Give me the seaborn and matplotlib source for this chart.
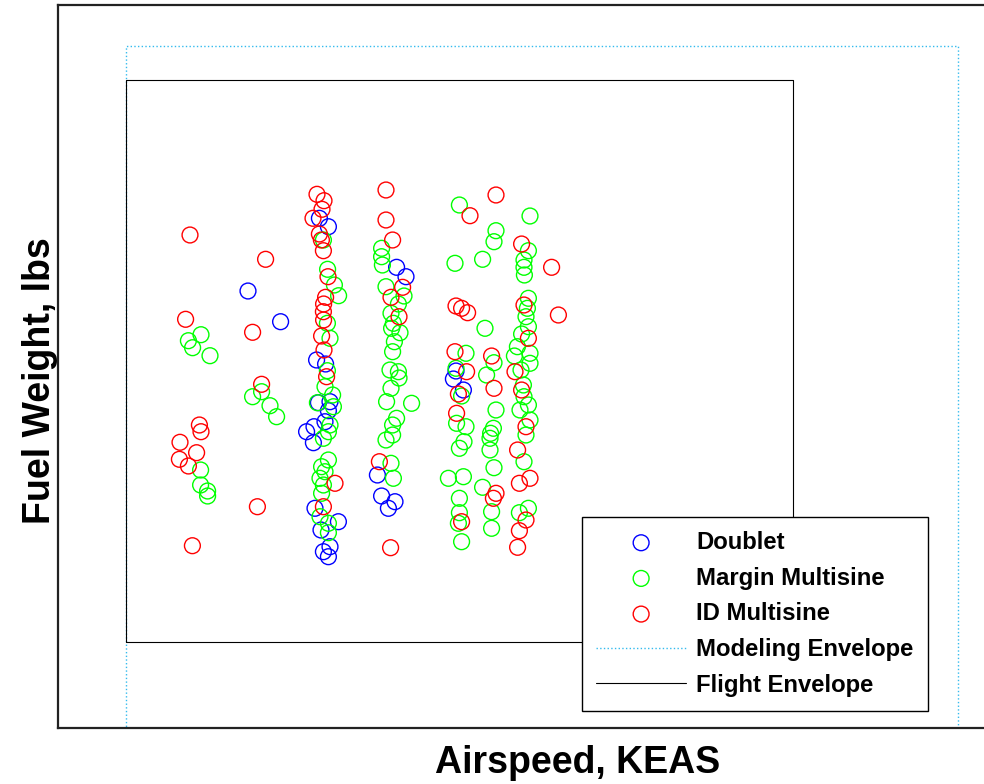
import seaborn as sns
import pandas as pd
import matplotlib.pyplot as plt

sns.set_style("white")
plt.rcParams['font.family'] = ['Liberation Sans', 'DejaVu Sans']
plt.rcParams['text.color'] = 'black'
plt.rcParams['axes.labelcolor'] = 'black'

# Test points (airspeed KEAS, fuel weight lbs)
doublet_keas = [124.0, 140.3, 159.7, 164.2, 158.3, 162.8, 159.2, 165.0, 164.2, 153.3,
                157.0, 162.5, 156.7, 157.5, 169.2, 160.5, 161.7, 164.2, 165.0, 198.3,
                203.0, 188.7, 190.8, 197.5, 194.2, 228.0, 226.7, 231.7]
doublet_fuel = [4370, 4063, 5097, 5013, 3680, 3640, 3253, 3263, 3173, 2963,
                3013, 3063, 2853, 2197, 2063, 1980, 1763, 1713, 1813, 4607,
                4513, 2530, 2320, 2263, 2197, 3570, 3490, 3380]

margin_keas = [100.5, 94.2, 96.3, 105.0, 100.3, 100.3, 103.8, 103.8, 126.3, 130.8,
               135.0, 138.3,
               161.7, 163.8, 167.2, 169.3, 163.7, 165.0, 163.7, 162.5, 166.3, 158.7,
               166.7, 165.0, 164.2, 161.7, 164.2, 160.8, 162.5, 160.0, 161.7, 160.8,
               160.0, 164.2, 164.2,
               190.8, 190.8, 191.2, 193.0, 202.0, 199.2, 195.5, 196.7, 195.8, 200.0,
               197.2, 196.3, 195.0, 199.2, 199.5, 195.5, 193.3, 205.8, 198.3, 196.3,
               196.3, 193.0, 195.5, 196.7,
               229.7, 227.5, 233.0, 228.0, 230.8, 228.3, 233.0, 232.0, 229.7, 224.2,
               231.7, 229.7, 229.7, 229.2, 230.8,
               248.0, 247.0, 241.3, 242.5, 247.0, 243.3, 248.0, 246.7, 245.3, 245.0,
               245.0, 247.0, 241.3, 245.8, 245.8,
               265.0, 264.2, 262.0, 262.0, 262.2, 264.2, 263.7, 263.0, 264.2, 260.8,
               258.7, 257.2, 265.0, 265.0, 260.5, 261.7, 262.0, 264.2, 260.0, 265.0,
               263.0, 262.0, 259.7, 264.2]
margin_fuel = [3933, 3873, 3803, 3723, 2580, 2430, 2370, 2320, 3313, 3363,
               3223, 3113,
               4880, 4587, 4430, 4323, 4047, 3897, 3573, 3413, 3330, 3253,
               3213, 3030, 2963, 2897, 2680, 2613, 2563, 2497, 2430, 2347,
               2113, 2047, 1953,
               4797, 4713, 4630, 4413, 4320, 4240, 4147, 4047, 3997, 3953,
               3863, 3763, 3580, 3563, 3500, 3397, 3263, 3247, 3097, 3030,
               2930, 2880, 2647, 2497,
               5230, 4647, 3747, 3597, 3320, 3047, 3013, 2863, 2797, 2497,
               2513, 2297, 2153, 2047, 1863,
               4973, 4863, 4687, 3997, 3653, 3530, 3180, 2997, 2947, 2897,
               2780, 2603, 2407, 2163, 1997,
               5120, 4773, 4680, 4607, 4530, 4297, 4197, 4113, 4013, 3940,
               3813, 3720, 3747, 3647, 3580, 3430, 3313, 3230, 3180, 3080,
               2930, 2663, 2153, 2197]

id_keas = [95.0, 132.8, 126.3, 92.8, 130.8, 99.7, 100.5, 90.0, 98.3, 89.7,
           94.2, 128.7, 96.2,
           158.5, 162.0, 161.0, 156.5, 159.7, 160.7, 161.7, 164.0, 162.8, 161.8,
           161.7, 161.8, 160.8, 162.0, 163.3, 167.5, 161.7,
           193.0, 193.0, 196.3, 201.3, 195.5, 199.5, 189.7, 195.3,
           235.0, 228.0, 230.8, 233.8, 227.5, 233.3, 229.2, 228.3, 230.8,
           248.0, 245.8, 247.0, 248.0, 246.7,
           260.8, 275.8, 262.0, 279.2, 264.2, 257.5, 260.8, 263.0, 258.8, 259.7,
           265.0, 263.0, 259.7, 258.8]
id_fuel = [4930, 4687, 3957, 4087, 3437, 3030, 2963, 2857, 2753, 2687,
           2620, 2213, 1823,
           5337, 5273, 5187, 5097, 4940, 4880, 4773, 4513, 4307, 4240,
           4163, 4080, 3920, 3780, 3513, 2447, 2213,
           5380, 5080, 4880, 4407, 4307, 4113, 2663, 1803,
           5123, 4220, 4197, 4153, 3763, 3563, 3340, 3147, 2063,
           5330, 3720, 3397, 2347, 2297,
           4840, 4607, 4230, 4130, 3897, 3563, 3380, 3013, 2780, 2447,
           2497, 2080, 1973, 1807]

# Envelope corners
modeling_keas = [63, 63, 479, 479]
modeling_fuel = [-500, 6825, 6825, -500]
flight_keas = [63, 63, 396.5, 396.5, 63]
flight_fuel = [860, 6480, 6480, 860, 860]

df = pd.concat([
    pd.DataFrame({"keas": doublet_keas, "fuel": doublet_fuel, "type": "Doublet"}),
    pd.DataFrame({"keas": margin_keas, "fuel": margin_fuel, "type": "Margin Multisine"}),
    pd.DataFrame({"keas": id_keas, "fuel": id_fuel, "type": "ID Multisine"}),
])
colors = {"Doublet": "#0000ff", "Margin Multisine": "#00ff00", "ID Multisine": "#ff0000"}

fig = plt.figure(figsize=(9.84, 7.84), dpi=100)
ax = fig.add_axes([58 / 984, 1 - 728 / 784, 1029 / 984, 723 / 784])

for name, grp in df.groupby("type", sort=False):
    sns.scatterplot(data=grp, x="keas", y="fuel", ax=ax, color=colors[name],
                    facecolors="none", edgecolor=colors[name], linewidth=1,
                    s=130, label=name)

ax.plot(modeling_keas, modeling_fuel, color="#33bbee", linestyle=":", linewidth=1,
        label="Modeling Envelope")
ax.plot(flight_keas, flight_fuel, color="black", linewidth=0.8, label="Flight Envelope")

ax.set_xlim(29, 543.5)
ax.set_ylim(0, 7230)
ax.set_xticks([])
ax.set_yticks([])
for sp in ax.spines.values():
    sp.set_color("#222222")
    sp.set_linewidth(1.6)

ax.set_xlabel("Airspeed, KEAS", fontsize=27, fontweight="bold", labelpad=12)
ax.set_ylabel("Fuel Weight, lbs", fontsize=27, fontweight="bold", labelpad=0)
ax.xaxis.label.set_x(0.505)
ax.yaxis.label.set_y(0.481)

leg = ax.legend(loc="lower left", bbox_to_anchor=(582 / 984, 1 - 711 / 784),
                bbox_transform=fig.transFigure, prop={"weight": "bold", "size": 17.2},
                frameon=True, fancybox=False, edgecolor="black", framealpha=1,
                handlelength=3.75, handletextpad=0.42, borderpad=0.6,
                labelspacing=0.53, borderaxespad=0)
leg.get_frame().set_linewidth(1)

plt.savefig("out.png", dpi=100)
plt.close()
